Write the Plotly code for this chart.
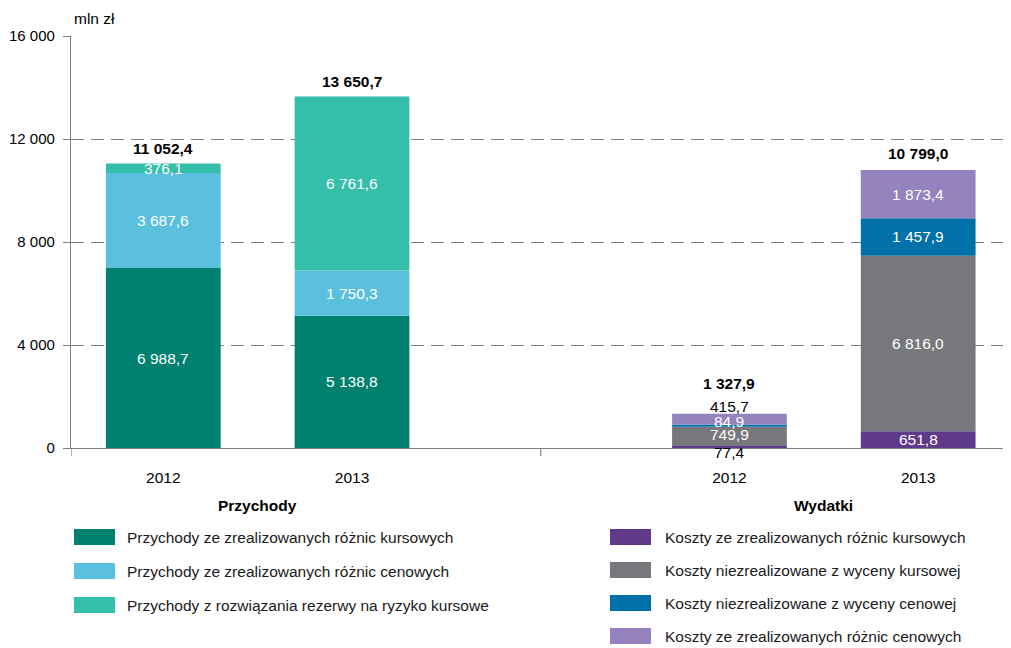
import plotly.graph_objects as go

# ---- data ----
years = ["2012", "2013", "2012", "2013"]
groups = ["Przychody", "Wydatki"]
x_pos = [0, 1, 3, 4]

inc_names = ["Przychody ze zrealizowanych różnic kursowych",
             "Przychody ze zrealizowanych różnic cenowych",
             "Przychody z rozwiązania rezerwy na ryzyko kursowe"]
inc_kurs = [6988.7, 5138.8]
inc_cen = [3687.6, 1750.3]
inc_rez = [376.1, 6761.6]
inc_totals = [11052.4, 13650.7]

exp_names = ["Koszty ze zrealizowanych różnic kursowych",
             "Koszty niezrealizowane z wyceny kursowej",
             "Koszty niezrealizowane z wyceny cenowej",
             "Koszty ze zrealizowanych różnic cenowych"]
exp_kurs = [77.4, 651.8]
exp_wyc_kurs = [749.9, 6816.0]
exp_wyc_cen = [84.9, 1457.9]
exp_cen = [415.7, 1873.4]
exp_totals = [1327.9, 10799.0]

y_ticks = [0, 4000, 8000, 12000, 16000]
y_tick_labels = ["0", "4 000", "8 000", "12 000", "16 000"]

inc_colors = ["#00816F", "#5BC0DE", "#35BEAA"]
exp_colors = ["#5F3A8A", "#77787B", "#0070A9", "#9483BF"]

FONT = "Liberation Sans, Arial, sans-serif"
FS = 15.5

# page offset of the plotly div (body margin) and target window size
OFF = 8
WIN_W, WIN_H = 1011, 648
FIG_W, FIG_H = WIN_W - OFF, WIN_H - OFF

# plot area in screenshot pixels
PL, PR, PT, PB = 71, 1005, 36, 448


def fmt(v):
    return f"{v:,.1f}".replace(",", " ").replace(".", ",")


def paper_x(px):
    return (px - PL) / (PR - PL)


def paper_y(py):
    return (PB - py) / (PB - PT)


fig = go.Figure()
W = 0.608

inc_series = [inc_kurs, inc_cen, inc_rez]
exp_series = [exp_kurs, exp_wyc_kurs, exp_wyc_cen, exp_cen]

annotations = []

# income bars
base = [0.0, 0.0]
for name, vals, col in zip(inc_names, inc_series, inc_colors):
    fig.add_trace(go.Bar(x=x_pos[:2], y=vals, base=base[:], name=name,
                         marker=dict(color=col, line=dict(width=0)),
                         width=W, showlegend=False))
    for i, v in enumerate(vals):
        annotations.append(dict(x=x_pos[i], y=base[i] + v / 2, text=fmt(v),
                                showarrow=False, font=dict(color="white", size=FS, family=FONT)))
    base = [b + v for b, v in zip(base, vals)]
for i, t in enumerate(inc_totals):
    annotations.append(dict(x=x_pos[i], y=t, text=f"<b>{fmt(t)}</b>", showarrow=False,
                            yshift=15, font=dict(color="black", size=FS, family=FONT)))

# expense bars
base = [0.0, 0.0]
# per-label (color, yshift) for the small 2012 segments
small_style = {0: ("black", -5), 1: ("white", 2), 2: ("white", 4), 3: ("black", 13)}
for k, (name, vals, col) in enumerate(zip(exp_names, exp_series, exp_colors)):
    fig.add_trace(go.Bar(x=x_pos[2:], y=vals, base=base[:], name=name,
                         marker=dict(color=col, line=dict(width=0)),
                         width=W, showlegend=False))
    for i, v in enumerate(vals):
        if i == 0:
            c, ys = small_style[k]
        else:
            c, ys = "white", 0
        annotations.append(dict(x=x_pos[2 + i], y=base[i] + v / 2, text=fmt(v),
                                showarrow=False, yshift=ys,
                                font=dict(color=c, size=FS, family=FONT)))
    base = [b + v for b, v in zip(base, vals)]
for i, t in enumerate(exp_totals):
    annotations.append(dict(x=x_pos[2 + i], y=t, text=f"<b>{fmt(t)}</b>", showarrow=False,
                            yshift=30 if i == 0 else 16,
                            font=dict(color="black", size=FS, family=FONT)))

# group labels
for gx, g in zip([0.5, 3.5], groups):
    annotations.append(dict(x=gx, xref="x", y=paper_y(505), yref="paper", yanchor="middle",
                            text=f"<b>{g}</b>", showarrow=False,
                            font=dict(color="black", size=FS, family=FONT)))

# unit label
annotations.append(dict(x=paper_x(72), y=paper_y(18), xref="paper", yref="paper",
                        text="mln zł", showarrow=False, xanchor="left", yanchor="middle",
                        font=dict(color="black", size=FS, family=FONT)))

shapes = []
# separator ticks below axis
for sx in [-0.489, 2.0]:
    shapes.append(dict(type="line", xref="x", yref="paper", x0=sx, x1=sx, y0=0, y1=-0.02,
                       line=dict(color="#808080", width=1.2)))

# custom legend (two columns)
col1_rows = [537, 571, 605]
col2_rows = [537, 570, 603, 636]
for name, col, ry in zip(inc_names, inc_colors, col1_rows):
    shapes.append(dict(type="rect", xref="paper", yref="paper",
                       x0=paper_x(74), x1=paper_x(115), y0=paper_y(ry + 8), y1=paper_y(ry - 8),
                       fillcolor=col, line=dict(width=0)))
    annotations.append(dict(x=paper_x(125), y=paper_y(ry), xref="paper", yref="paper",
                            text=name, showarrow=False, xanchor="left", yanchor="middle",
                            font=dict(color="#1a1a1a", size=FS, family=FONT)))
for name, col, ry in zip(exp_names, exp_colors, col2_rows):
    shapes.append(dict(type="rect", xref="paper", yref="paper",
                       x0=paper_x(610), x1=paper_x(651), y0=paper_y(ry + 8), y1=paper_y(ry - 8),
                       fillcolor=col, line=dict(width=0)))
    annotations.append(dict(x=paper_x(663), y=paper_y(ry), xref="paper", yref="paper",
                            text=name, showarrow=False, xanchor="left", yanchor="middle",
                            font=dict(color="#1a1a1a", size=FS, family=FONT)))

fig.update_layout(
    width=FIG_W, height=FIG_H,
    margin=dict(l=PL - OFF, r=WIN_W - PR, t=PT - OFF, b=WIN_H - PB, autoexpand=False),
    plot_bgcolor="white", paper_bgcolor="white",
    barmode="overlay",
    font=dict(family=FONT, size=FS, color="black"),
    annotations=annotations,
    shapes=shapes,
    xaxis=dict(range=[-0.489, 4.46], tickvals=x_pos, ticktext=years,
               ticks="outside", ticklen=15, tickcolor="rgba(0,0,0,0)",
               showgrid=False, zeroline=False, showline=True, linecolor="#808080",
               linewidth=1.2, automargin=False,
               tickfont=dict(size=FS, family=FONT, color="black")),
    yaxis=dict(range=[0, 16000], tickvals=y_ticks, ticktext=y_tick_labels,
               ticks="outside", ticklen=7, tickcolor="#808080", ticklabelstandoff=5,
               showgrid=True, gridcolor="#808080", griddash="13px,7px", gridwidth=1.3,
               zeroline=False, showline=True, linecolor="#808080", linewidth=1.2,
               automargin=False,
               tickfont=dict(size=15, family=FONT, color="black")),
)

fig.write_html("out.html")
